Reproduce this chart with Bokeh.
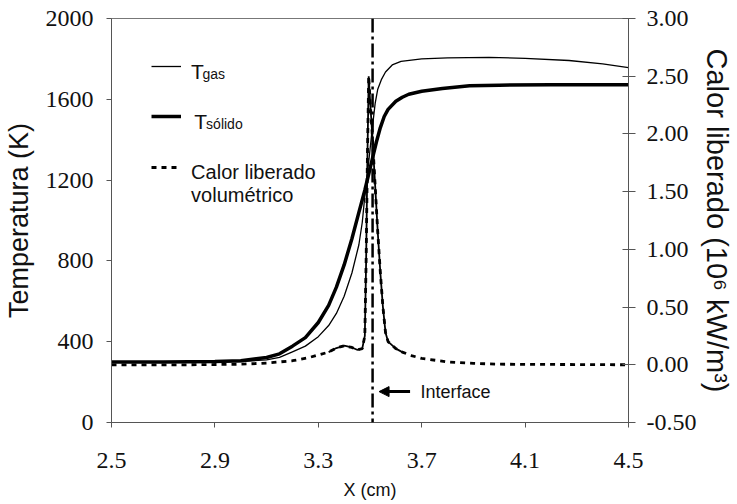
from bokeh.plotting import figure
from bokeh.models import (Range1d, LinearAxis, FixedTicker, NumeralTickFormatter,
                          Span, Label, Arrow, NormalHead, Legend, LegendItem)
from bokeh.embed import file_html
from bokeh.resources import INLINE

# ---- data ----
x_gas = [2.5, 2.9, 3.0, 3.1, 3.15, 3.2, 3.25, 3.3, 3.34, 3.37, 3.40, 3.43, 3.457, 3.47,
         3.48, 3.49, 3.50, 3.51, 3.52, 3.53, 3.545, 3.56, 3.586, 3.62, 3.7, 3.8, 3.96,
         4.1, 4.27, 4.4, 4.5]
t_gas = [300, 300, 302, 310, 322, 350, 378, 425, 480, 540, 625, 740, 880, 990,
         1120, 1230, 1350, 1470, 1580, 1650, 1700, 1735, 1770, 1788, 1800, 1805, 1808,
         1803, 1792, 1775, 1757]

x_sol = [2.5, 2.7, 2.9, 3.0, 3.1, 3.15, 3.2, 3.25, 3.3, 3.34, 3.37, 3.40, 3.43, 3.457,
         3.48, 3.496, 3.51, 3.525, 3.54, 3.555, 3.57, 3.6, 3.625, 3.65, 3.7, 3.78, 3.885,
         4.0, 4.2, 4.5]
t_sol = [300, 300, 302, 306, 322, 340, 378, 420, 495, 580, 670, 780, 910, 1040,
         1150, 1235, 1310, 1390, 1460, 1515, 1550, 1590, 1610, 1625, 1640, 1654, 1667,
         1670, 1672, 1672]

x_q = [2.5, 2.8, 3.0, 3.1, 3.2, 3.26, 3.3, 3.34, 3.37, 3.40, 3.43, 3.45, 3.47, 3.48,
       3.485, 3.49, 3.495, 3.50, 3.51, 3.52, 3.53, 3.54, 3.55, 3.56, 3.57, 3.6, 3.625,
       3.66, 3.7, 3.8, 3.9, 4.0, 4.5]
q_vol = [0.00, 0.00, 0.005, 0.015, 0.035, 0.06, 0.085, 0.11, 0.145, 0.165, 0.15, 0.13,
         0.14, 0.25, 0.9, 1.8, 2.5, 2.3, 1.95, 1.55, 1.15, 0.8, 0.5, 0.28, 0.2, 0.14,
         0.11, 0.08, 0.055, 0.025, 0.012, 0.005, 0.0]

x_ticks = [2.5, 2.9, 3.3, 3.7, 4.1, 4.5]
left_ticks = [0, 400, 800, 1200, 1600, 2000]
right_ticks = [-0.5, 0.0, 0.5, 1.0, 1.5, 2.0, 2.5, 3.0]
x_interface = 3.51

SERIF = "'Liberation Serif', 'Times New Roman', serif"
SANS = "'Liberation Sans', Arial, sans-serif"

p = figure(width=736, height=503,
           x_range=Range1d(2.5, 4.5), y_range=Range1d(0, 2000),
           output_backend="svg", toolbar_location=None,
           min_border_left=110, min_border_right=107,
           min_border_top=18, min_border_bottom=81)
p.extra_y_ranges = {"right": Range1d(-0.5, 3.0)}
p.grid.visible = False
p.outline_line_color = "#777777"
p.outline_line_width = 1

# axes styling
xa = p.xaxis[0]
xa.ticker = FixedTicker(ticks=x_ticks)
xa.formatter = NumeralTickFormatter(format="0.0")
xa.axis_label = "X (cm)"

ya = p.yaxis[0]
ya.ticker = FixedTicker(ticks=left_ticks)
ya.axis_label = "Temperatura (K)"

ra = LinearAxis(y_range_name="right", ticker=FixedTicker(ticks=right_ticks),
                formatter=NumeralTickFormatter(format="0.00"),
                axis_label="Calor liberado (10\u2076 kW/m\u00b3)")
p.add_layout(ra, "right")

for ax in (xa, ya, ra):
    ax.axis_line_color = "#555555"
    ax.major_tick_line_color = "#555555"
    ax.minor_tick_line_color = None
    ax.major_tick_out = 5
    ax.major_tick_in = 0
    ax.major_label_text_font = SERIF
    ax.major_label_text_font_size = "24px"
    ax.major_label_text_color = "#111111"
    ax.axis_label_text_font = SANS
    ax.axis_label_text_font_style = "normal"
    ax.axis_label_text_color = "#111111"

xa.major_label_standoff = 25
xa.axis_label_text_font_size = "18px"
xa.axis_label_standoff = 9
ya.major_label_standoff = 13
ya.axis_label_text_font_size = "27px"
ya.axis_label_standoff = 9
ra.major_tick_in = 6
ra.major_tick_out = 7
ra.major_label_standoff = 11
ra.axis_label_text_font_size = "29px"
ra.axis_label_standoff = 2

# curves
r_gas = p.line(x_gas, t_gas, line_color="black", line_width=1.3)
r_sol = p.line(x_sol, t_sol, line_color="black", line_width=3.5)
r_q = p.line(x_q, q_vol, y_range_name="right", line_color="black",
             line_width=2.8, line_dash="5 5")
# the dense central part of the heat-release curve looks solid in the reference
xq_mid = [xv for xv in x_q if 3.33 <= xv <= 3.63]
q_mid = [qv for xv, qv in zip(x_q, q_vol) if 3.33 <= xv <= 3.63]
p.line(xq_mid, q_mid, y_range_name="right", line_color="black", line_width=1.8)

# interface line and label
p.add_layout(Span(location=x_interface, dimension="height", line_color="black",
                  line_width=2.5, line_dash="14 4 3 4"))
p.add_layout(Arrow(end=NormalHead(size=10, fill_color="black", line_color="black"),
                   x_start=3.655, y_start=153, x_end=3.535, y_end=153,
                   line_width=3, line_color="black"))
p.add_layout(Label(x=3.695, y=153, text="Interface", text_font=SANS,
                   text_font_size="18px", text_baseline="middle", text_color="#111111"))

# custom legend (samples) - one legend per row
rows = [(r_gas, 346), (r_sol, 296), (r_q, 245)]
for r, vy in rows:
    lg = Legend(items=[LegendItem(label=" ", renderers=[r])], location=(40, vy),
                glyph_width=30, glyph_height=20, label_height=20, label_width=0,
                label_standoff=0, padding=0, margin=0, spacing=0,
                border_line_alpha=0, background_fill_alpha=0)
    p.add_layout(lg, "center")

# legend texts
def lab(x, y, t, size):
    p.add_layout(Label(x=x, y=y, text=t, text_font=SANS, text_font_size=size,
                       text_baseline="alphabetic", text_color="#111111"))

lab(2.808, 1740, "T", "21px")
lab(2.852, 1723, "gas", "14px")
lab(2.820, 1490, "T", "21px")
lab(2.866, 1478, "s\u00f3lido", "14px")
lab(2.808, 1238, "Calor liberado", "20px")
lab(2.808, 1124, "volum\u00e9trico", "20px")

open("out.html", "w").write(file_html(p, INLINE))
